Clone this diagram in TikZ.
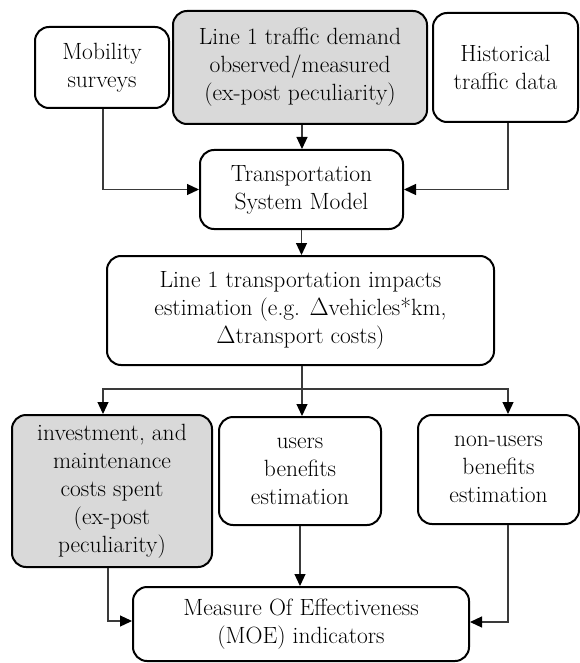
\documentclass[tikz,border=0pt]{standalone}
\usetikzlibrary{arrows.meta,calc}
\definecolor{boxgray}{HTML}{D9D9D9}
\definecolor{linegray}{HTML}{3A3A3A}
\begin{document}
\begin{tikzpicture}[x=1pt,y=-1pt,
  box/.style={draw=black,line width=2pt,rounded corners=14pt,align=center,inner sep=2pt,
    font=\rmfamily\fontsize{23.5}{28}\selectfont,text=black},
  graybox/.style={box,fill=boxgray},
  conn/.style={draw=linegray,line width=1.2pt,-{Triangle[length=12pt,width=11pt,color=black]}}]
\useasboundingbox (0,0) rectangle (580,663);
\node[box,minimum width=134pt,minimum height=81pt] (mob) at (102,67.5) {Mobility\\surveys};
\node[graybox,minimum width=254pt,minimum height=113pt] (dem) at (300,67.5) {Line 1 traffic demand\\observed/measured\\(ex-post peculiarity)};
\node[box,minimum width=145pt,minimum height=109pt] (hist) at (505.5,67.5) {Historical\\traffic data};
\node[box,minimum width=203pt,minimum height=79pt] (tsm) at (301.5,189.5) {Transportation\\System Model};
\node[box,minimum width=387pt,minimum height=109pt] (imp) at (300.5,310.5) {Line 1 transportation impacts\\estimation (e.g. $\Delta$vehicles*km,\\$\Delta$transport costs)};
\node[graybox,minimum width=200pt,minimum height=152pt] (inv) at (112,491) {investment, and\\maintenance\\costs spent\\(ex-post\\peculiarity)};
\node[box,minimum width=162pt,minimum height=108pt] (usr) at (300,471) {users\\benefits\\estimation};
\node[box,minimum width=161pt,minimum height=109pt] (non) at (498.5,469.5) {non-users\\benefits\\estimation};
\node[box,minimum width=336pt,minimum height=74pt] (moe) at (301,624) {Measure Of Effectiveness\\(MOE) indicators};
\coordinate (br) at ($(imp.south)+(1.5,23)$);
\draw[conn] ([xshift=1pt]mob.south) |- (tsm.west);
\draw[conn] ([xshift=2.5pt]hist.south) |- (tsm.east);
\draw[conn] ([xshift=2pt]dem.south) -- ([xshift=2pt]dem.south |- tsm.north);
\draw[conn] (tsm.south) -- (tsm.south |- imp.north);
\draw[draw=linegray,line width=1.2pt] (br |- imp.south) -- (br);
\draw[conn] (br) -| ([xshift=-9pt]inv.north);
\draw[conn] (br) -- (br |- usr.north);
\draw[conn] (br) -| ([xshift=9.5pt]non.south |- non.north);
\draw[conn] ([xshift=-4pt]inv.south) |- ([yshift=3pt]moe.west);
\draw[conn] (usr.south) -- (usr.south |- moe.north);
\draw[conn] ([xshift=9.5pt]non.south) |- ([yshift=2pt]moe.east);
\end{tikzpicture}
\end{document}
